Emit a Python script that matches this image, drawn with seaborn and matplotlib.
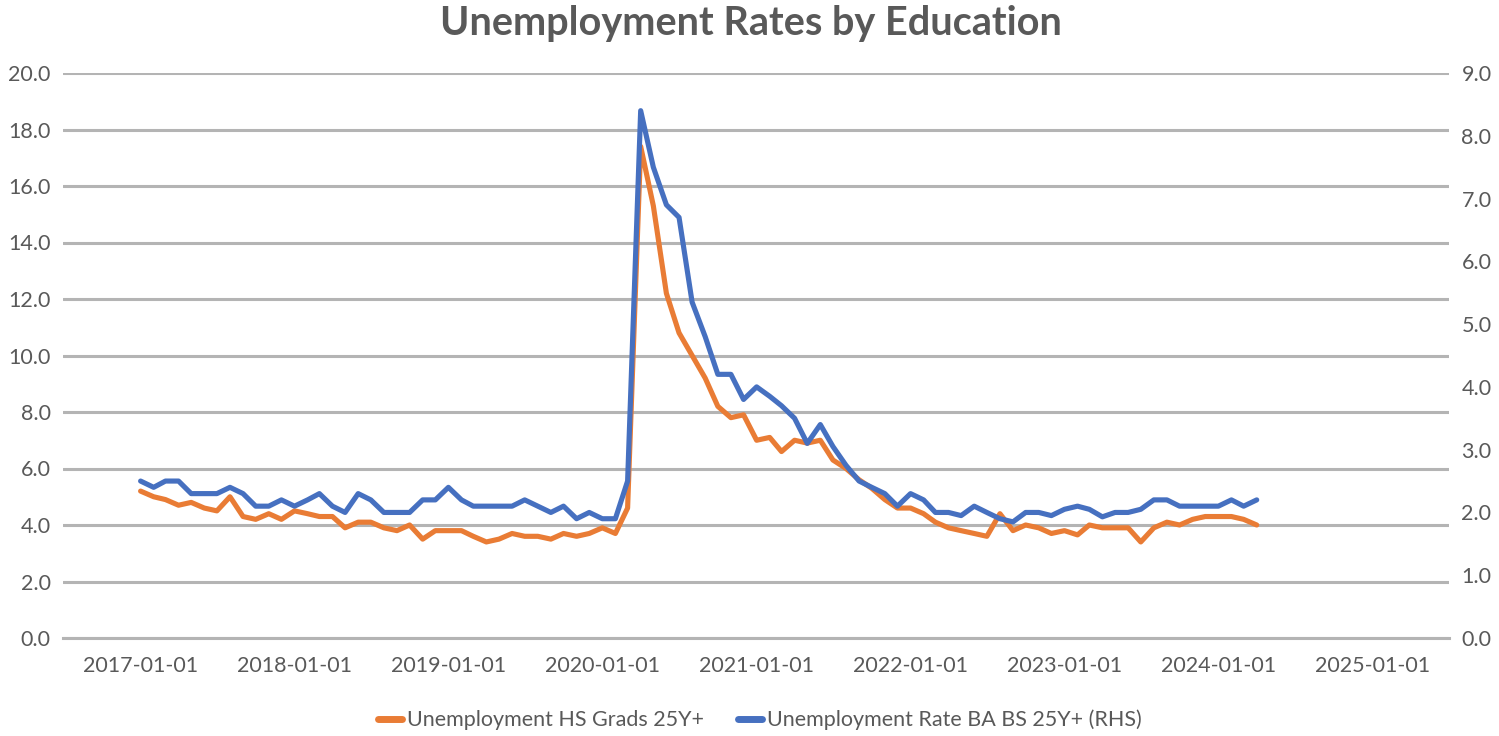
import numpy as np
import pandas as pd
import matplotlib
matplotlib.use("Agg")
import matplotlib.pyplot as plt
import matplotlib.dates as mdates
import seaborn as sns

# ---------------- data (monthly, starting 2017-01) ----------------
start_month = "2017-01-01"
hs_grads = [5.2, 5.0, 4.9, 4.7, 4.8, 4.6, 4.5, 5.0, 4.3, 4.2, 4.4, 4.2,
            4.5, 4.4, 4.3, 4.3, 3.9, 4.1, 4.1, 3.9, 3.8, 4.0, 3.5, 3.8,
            3.8, 3.8, 3.6, 3.4, 3.5, 3.7, 3.6, 3.6, 3.5, 3.7, 3.6, 3.7,
            3.9, 3.7, 4.6, 17.4, 15.3, 12.2, 10.8, 10.0, 9.2, 8.2, 7.8, 7.9,
            7.0, 7.1, 6.6, 7.0, 6.9, 7.0, 6.3, 6.0, 5.6, 5.3, 4.9, 4.6,
            4.6, 4.4, 4.1, 3.9, 3.8, 3.7, 3.6, 4.4, 3.8, 4.0, 3.9, 3.7,
            3.8, 3.65, 4.0, 3.9, 3.9, 3.9, 3.4, 3.9, 4.1, 4.0, 4.2, 4.3,
            4.3, 4.3, 4.2, 4.0]
ba_bs = [2.5, 2.4, 2.5, 2.5, 2.3, 2.3, 2.3, 2.4, 2.3, 2.1, 2.1, 2.2,
         2.1, 2.2, 2.3, 2.1, 2.0, 2.3, 2.2, 2.0, 2.0, 2.0, 2.2, 2.2,
         2.4, 2.2, 2.1, 2.1, 2.1, 2.1, 2.2, 2.1, 2.0, 2.1, 1.9, 2.0,
         1.9, 1.9, 2.5, 8.4, 7.5, 6.9, 6.7, 5.35, 4.8, 4.2, 4.2, 3.8,
         4.0, 3.85, 3.7, 3.5, 3.1, 3.4, 3.05, 2.75, 2.5, 2.4, 2.3, 2.1,
         2.3, 2.2, 2.0, 2.0, 1.95, 2.1, 2.0, 1.9, 1.85, 2.0, 2.0, 1.95,
         2.05, 2.1, 2.05, 1.93, 2.0, 2.0, 2.05, 2.2, 2.2, 2.1, 2.1, 2.1,
         2.1, 2.2, 2.1, 2.2]
label_hs = "Unemployment HS Grads 25Y+"
label_ba = "Unemployment Rate BA BS 25Y+ (RHS)"
title = "Unemployment Rates by Education"
left_ticks = [0, 2, 4, 6, 8, 10, 12, 14, 16, 18, 20]
right_ticks = [0, 1, 2, 3, 4, 5, 6, 7, 8, 9]
year_labels = [2017, 2018, 2019, 2020, 2021, 2022, 2023, 2024, 2025]

# ---------------- style ----------------
sns.set_theme(style="white")
plt.rcParams["font.family"] = ["Lato", "DejaVu Sans"]
TXT = "#595959"
GRID = "#b4b4b4"
ORANGE = "#E97C35"
BLUE = "#4670C0"

dates = pd.date_range(start_month, periods=len(hs_grads), freq="MS")
df = pd.DataFrame({"date": dates, "hs": hs_grads, "ba": ba_bs})

fig = plt.figure(figsize=(14.99, 7.36), dpi=100)
ax = fig.add_axes([63 / 1499, 1 - 638 / 736, (1449 - 63) / 1499, (638 - 73) / 736])
ax2 = ax.twinx()

sns.lineplot(data=df, x="date", y="hs", ax=ax, color=ORANGE, lw=3.7, legend=False)
sns.lineplot(data=df, x="date", y="ba", ax=ax2, color=BLUE, lw=3.7, legend=False)

ax.set_ylim(0, 20)
ax2.set_ylim(0, 9)
ax.set_yticks(left_ticks)
ax.set_yticklabels([f"{v:.1f}" for v in left_ticks])
ax2.set_yticks(right_ticks)
ax2.set_yticklabels([f"{v:.1f}" for v in right_ticks])

ax.set_xlim(pd.Timestamp("2016-07-01"), pd.Timestamp("2025-07-01"))
major = [pd.Timestamp(f"{y}-07-01") for y in range(2016, 2026)]
minor = [pd.Timestamp(f"{y}-01-01") for y in year_labels]
ax.set_xticks(major)
ax.set_xticklabels([""] * len(major))
ax.set_xticks(minor, minor=True)
ax.set_xticklabels([f"{y}-01-01" for y in year_labels], minor=True)

ax.yaxis.grid(True, color=GRID, lw=2.2)
ax.xaxis.grid(False)
ax2.grid(False)
ax.set_axisbelow(True)

for a in (ax, ax2):
    for s in ("left", "right", "top", "bottom"):
        a.spines[s].set_visible(False)
    a.set_xlabel("")
    a.set_ylabel("")
ax.spines["bottom"].set_visible(True)
ax.spines["bottom"].set_color(GRID)
ax.spines["bottom"].set_linewidth(2.2)

FS = 15.5
ax.tick_params(axis="x", which="major", length=9, width=1.5, color=GRID, direction="out")
ax.tick_params(axis="x", which="minor", length=0, pad=13, labelsize=FS, labelcolor=TXT)
ax.tick_params(axis="y", length=0, pad=9, labelsize=FS, labelcolor=TXT)
ax2.tick_params(axis="y", length=0, pad=9, labelsize=FS, labelcolor=TXT)

fig.text(751 / 1499, 1 - 24 / 736, title, ha="center", va="center",
         fontsize=28.5, fontweight="bold", color=TXT)

h1 = ax.lines[0]
h2 = ax2.lines[0]
fig.legend([h1, h2], [label_hs, label_ba], loc="center",
           bbox_to_anchor=(760 / 1499, 1 - 720 / 736), ncol=2, frameon=False,
           fontsize=15.5, labelcolor=TXT, handlelength=1.1, handletextpad=0.25,
           columnspacing=1.6)
for lh in fig.legends[0].legend_handles:
    lh.set_linewidth(5)

fig.savefig("out.png", dpi=100)
